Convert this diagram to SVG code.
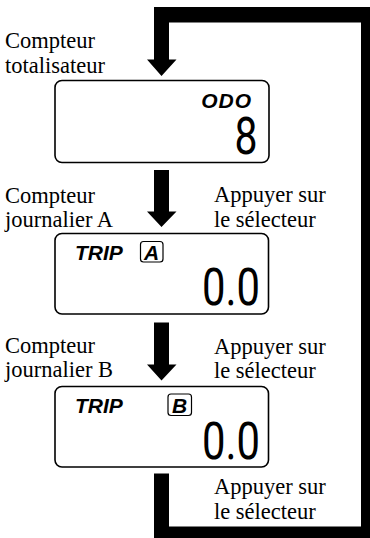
<svg xmlns="http://www.w3.org/2000/svg" width="370" height="538" viewBox="0 0 370 538">
<style>
.lbl{font-family:"Liberation Serif","Times New Roman",serif;font-size:22.5px;fill:#000}
.lcd{fill:#fff;stroke:#000;stroke-width:1.6}
.tag{font-family:"Liberation Sans",Arial,sans-serif;font-size:21px;font-weight:bold;font-style:italic;fill:#000}
.box{fill:#fff;stroke:#000;stroke-width:1.2}
.dig{font-family:Roboto,"Liberation Sans",sans-serif;font-weight:normal;font-size:51px;fill:#000}
.conn{fill:#000;stroke:none}
</style>
<rect width="370" height="538" fill="#fff"/>
<g id="connectors">
<path class="conn" d="M154,473.5 V538 H370 V7 H154 V59.5 H147 L161.5,76 L176.5,59.5 H169 V22.5 H361 V526.5 H169 V473.5 Z"/>
<path class="conn" d="M154,170 V211.5 H147 L161.5,227 L176.5,211.5 H169 V170 Z"/>
<path class="conn" d="M154,322.5 V364.5 H147 L161.5,380.5 L176.5,364.5 H169 V322.5 Z"/>
</g>
<g id="label-odo">
<text class="lbl" x="5" y="48">Compteur</text>
<text class="lbl" x="5" y="73">totalisateur</text>
</g>
<g id="node-odo">
<rect class="lcd" x="55" y="80.5" width="214" height="82" rx="7"/>
<text class="tag" x="252" y="107.5" text-anchor="end" letter-spacing="1">ODO</text>
<text class="dig" x="257.5" y="154" text-anchor="end" textLength="23" lengthAdjust="spacingAndGlyphs">8</text>
</g>
<g id="label-a">
<text class="lbl" x="5" y="203">Compteur</text>
<text class="lbl" x="5" y="226.5">journalier A</text>
<text class="lbl" x="214" y="202">Appuyer sur</text>
<text class="lbl" x="214" y="227">le sélecteur</text>
</g>
<g id="node-trip-a">
<rect class="lcd" x="55" y="233.5" width="213.5" height="80.5" rx="7"/>
<text class="tag" x="75" y="259.5">TRIP</text>
<rect class="box" x="140.5" y="241.5" width="22.5" height="20.5" rx="3"/>
<text class="tag" x="151.5" y="259.5" text-anchor="middle">A</text>
<text class="dig" x="260" y="305" text-anchor="end" textLength="58" lengthAdjust="spacingAndGlyphs">0.0</text>
</g>
<g id="label-b">
<text class="lbl" x="5" y="353">Compteur</text>
<text class="lbl" x="5" y="377">journalier B</text>
<text class="lbl" x="214" y="354">Appuyer sur</text>
<text class="lbl" x="214" y="378">le sélecteur</text>
</g>
<g id="node-trip-b">
<rect class="lcd" x="55" y="386.5" width="213.5" height="80.5" rx="7"/>
<text class="tag" x="75" y="412.5">TRIP</text>
<rect class="box" x="168" y="394" width="23.5" height="21.5" rx="3"/>
<text class="tag" x="179.5" y="412.5" text-anchor="middle">B</text>
<text class="dig" x="260" y="458.5" text-anchor="end" textLength="58" lengthAdjust="spacingAndGlyphs">0.0</text>
</g>
<g id="label-loop">
<text class="lbl" x="214" y="493.5">Appuyer sur</text>
<text class="lbl" x="214" y="518.5">le sélecteur</text>
</g>
</svg>
